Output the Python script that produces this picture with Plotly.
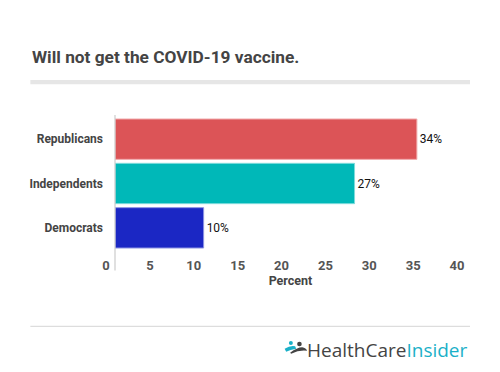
import plotly.graph_objects as go

# ---- data ----
categories = ["Republicans", "Independents", "Democrats"]
values = [34.4, 27.3, 10.1]
labels = ["34%", "27%", "10%"]
bar_colors = ["#dc5457", "#00b8b8", "#1b27c4"]
edge_colors = ["#f0a8aa", "#7fdcdc", "#8c93e2"]
x_ticks = [0, 5, 10, 15, 20, 25, 30, 35, 40]

W, H = 500, 372
L, R, T, B = 114.7, 34, 117, 122.4
PW, PH = W - L - R, H - T - B


def px(x):
    return (x - L) / PW


def py(y):
    return (H - B - y) / PH


fig = go.Figure(
    go.Bar(
        y=categories,
        x=values,
        orientation="h",
        marker=dict(color=bar_colors, line=dict(color=edge_colors, width=1)),
        text=labels,
        textposition="outside",
        textfont=dict(family="Roboto", size=12, color="#111111"),
        cliponaxis=False,
        hoverinfo="skip",
    )
)

fig.update_layout(
    width=W,
    height=H,
    margin=dict(l=L, r=R, t=T, b=B, pad=0),
    paper_bgcolor="white",
    plot_bgcolor="white",
    bargap=0.09,
    showlegend=False,
    font=dict(family="Roboto", color="#555555"),
    xaxis=dict(
        range=[0, 40],
        tickvals=x_ticks,
        ticktext=[str(v) for v in x_ticks],
        showgrid=False,
        zeroline=False,
        showline=False,
        ticks="",
        ticklabelshift=-9,
        ticklabelstandoff=6,
        tickfont=dict(family="Roboto", size=13, color="#555555", weight="bold"),
        title=dict(text="Percent", font=dict(family="Roboto", size=12.5, color="#444444", weight="bold"), standoff=4),
        fixedrange=True,
    ),
    yaxis=dict(
        autorange="reversed",
        showgrid=False,
        zeroline=False,
        showline=False,
        ticks="",
        ticklabelstandoff=11,
        tickfont=dict(family="Roboto", size=12, color="#444444", weight="bold"),
        fixedrange=True,
    ),
    shapes=[
        # vertical axis line
        dict(type="line", xref="paper", yref="paper", x0=px(114.7), x1=px(114.7), y0=py(115), y1=py(270),
             line=dict(color="#cccccc", width=1.2)),
        # header band
        dict(type="rect", xref="paper", yref="paper", x0=px(30), x1=px(470), y0=py(80), y1=py(84.3),
             line=dict(width=0), fillcolor="#e6e6e6"),
        # footer line
        dict(type="line", xref="paper", yref="paper", x0=px(30), x1=px(470), y0=py(325.7), y1=py(325.7),
             line=dict(color="#dddddd", width=1.2)),
        # logo heads
        dict(type="circle", xref="paper", yref="paper", x0=px(288.7), x1=px(292.7), y0=py(340.3), y1=py(344.3),
             line=dict(width=0), fillcolor="#1ab0c8"),
        dict(type="circle", xref="paper", yref="paper", x0=px(297), x1=px(301.6), y0=py(341), y1=py(345.6),
             line=dict(width=0), fillcolor="#444444"),
        # logo bodies
        dict(type="path", xref="paper", yref="paper",
             path=f"M {px(284.5)},{py(348)} Q {px(290)},{py(344.5)} {px(295)},{py(345.5)} L {px(296)},{py(348)} Q {px(290)},{py(349)} {px(286)},{py(351)} Z",
             line=dict(width=0), fillcolor="#1ab0c8"),
        dict(type="path", xref="paper", yref="paper",
             path=f"M {px(290)},{py(352)} Q {px(297)},{py(346.5)} {px(302)},{py(346.5)} Q {px(306)},{py(347)} {px(307)},{py(350)} Q {px(299)},{py(349)} {px(291)},{py(353)} Z",
             line=dict(width=0), fillcolor="#444444"),
    ],
    annotations=[
        dict(text="Will not get the COVID-19 vaccine.", xref="paper", yref="paper", x=px(30), y=py(57),
             xanchor="left", yanchor="middle", showarrow=False,
             font=dict(family="Roboto", size=17.3, color="#444444", weight="bold")),
        dict(text="HealthCare<span style='color:#1ab0c8'>Insider</span>", xref="paper", yref="paper",
             x=px(470), y=py(349), xanchor="right", yanchor="middle", showarrow=False,
             font=dict(family="Open Sans", size=19, color="#444444")),
    ],
)

fig.write_html(
    "out.html",
    config={"displayModeBar": False},
    post_script="document.body.style.margin='0';document.body.style.overflow='hidden';",
)
